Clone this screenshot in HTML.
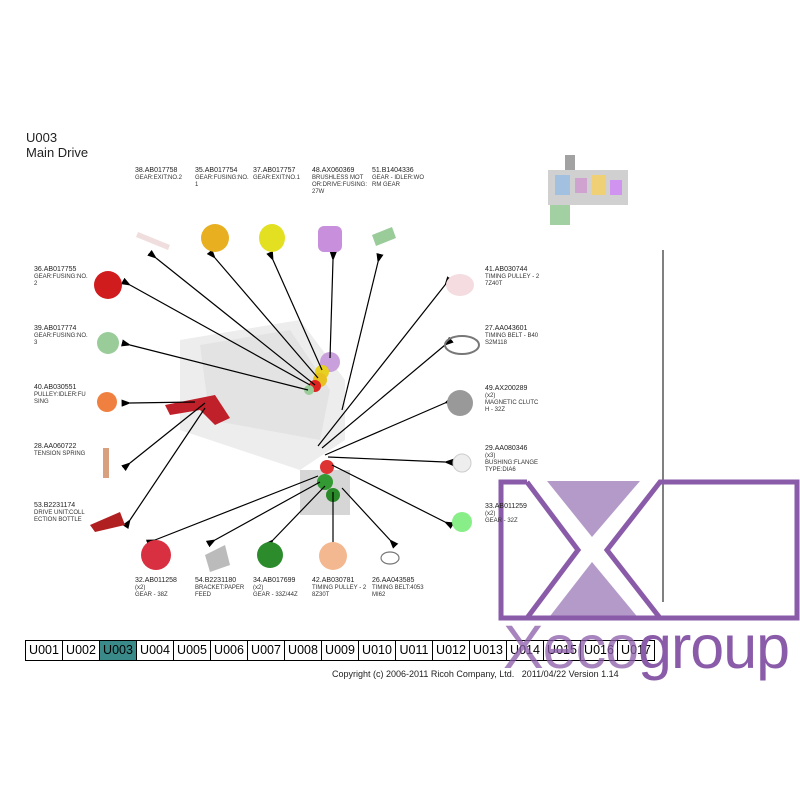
<!DOCTYPE html>
<html><head><meta charset="utf-8"><style>
body{margin:0;width:800px;height:800px;background:#fff;overflow:hidden;position:relative;font-family:"Liberation Sans",sans-serif}
.t{position:absolute;font-size:6px;line-height:7px;color:#333;width:62px}
.t b{font-weight:normal;font-size:7px;color:#222}
.tab{width:36px;height:19px;line-height:19px;text-align:center;border-right:1px solid #000}
</style></head><body>
<div style="position:absolute;left:26px;top:130px;font-size:13px;line-height:15px;color:#222">U003<br>Main Drive</div>

<svg width="800" height="800" style="position:absolute;left:0;top:0">
<defs><marker id="a" markerWidth="8" markerHeight="6" refX="1" refY="3" orient="auto-start-reverse"><path d="M8,0 L0,3 L8,6z" fill="#000"/></marker></defs>
<path d="M180,340 L300,320 L345,380 L345,440 L300,470 L180,430 Z" fill="#e8e8e8" opacity=".8"/>
<path d="M200,345 L290,330 L330,390 L320,440 L210,420 Z" fill="#dcdcdc" opacity=".6"/>
<rect x="300" y="470" width="50" height="45" fill="#bbb" opacity=".6"/>
<circle cx="330" cy="362" r="10" fill="#c9a0dc"/>
<circle cx="322" cy="372" r="7" fill="#e8d020"/><circle cx="320" cy="380" r="7" fill="#e8c020"/>
<circle cx="315" cy="386" r="6" fill="#d22"/><circle cx="309" cy="390" r="5" fill="#9c9"/>
<path d="M165,405 L215,395 L230,418 L215,425 L200,410 L170,415Z" fill="#c0202a"/>
<circle cx="327" cy="467" r="7" fill="#d33"/><circle cx="325" cy="482" r="8" fill="#393"/><circle cx="333" cy="495" r="7" fill="#2a8a2a"/>
<g opacity=".9"><rect x="548" y="170" width="80" height="35" fill="#ccc"/><rect x="555" y="175" width="15" height="20" fill="#9bd"/><rect x="575" y="178" width="12" height="15" fill="#c9c"/><rect x="592" y="175" width="14" height="20" fill="#ec6"/><rect x="610" y="180" width="12" height="15" fill="#c8e"/><rect x="550" y="205" width="20" height="20" fill="#9c9"/><rect x="565" y="155" width="10" height="15" fill="#999"/></g>
<g stroke="#000" stroke-width="1.2" marker-start="url(#a)">
<line x1="156" y1="258" x2="315" y2="385"/><line x1="215" y1="258" x2="318" y2="378"/>
<line x1="273" y1="260" x2="322" y2="370"/><line x1="333" y1="260" x2="330" y2="358"/>
<line x1="378" y1="262" x2="342" y2="410"/>
<line x1="130" y1="285" x2="310" y2="385"/><line x1="130" y1="345" x2="308" y2="390"/>
<line x1="130" y1="403" x2="195" y2="402"/><line x1="130" y1="463" x2="205" y2="403"/>
<line x1="130" y1="520" x2="205" y2="408"/>
<line x1="155" y1="540" x2="318" y2="476"/><line x1="215" y1="540" x2="320" y2="482"/>
<line x1="273" y1="540" x2="325" y2="486"/><line x1="333" y1="542" x2="333" y2="492"/>
<line x1="390" y1="540" x2="342" y2="488"/>
<line x1="445" y1="285" x2="318" y2="446"/><line x1="445" y1="345" x2="322" y2="448"/>
<line x1="445" y1="403" x2="325" y2="455"/><line x1="445" y1="462" x2="328" y2="457"/>
<line x1="445" y1="522" x2="332" y2="465"/>
</g>
<line x1="663" y1="250" x2="663" y2="602" stroke="#000" stroke-width="1"/>
<g>
<path d="M138,232 L170,245 L168,250 L136,237Z" fill="#f0dede"/>
<ellipse cx="215" cy="238" rx="14" ry="14" fill="#e8b020"/><ellipse cx="272" cy="238" rx="13" ry="14" fill="#e2e020"/>
<rect x="318" y="226" width="24" height="26" rx="6" fill="#c890dc"/>
<path d="M372,235 L392,227 L396,238 L376,246Z" fill="#9c9"/>
<circle cx="108" cy="285" r="14" fill="#d01c1c"/><circle cx="108" cy="343" r="11" fill="#9c9"/>
<circle cx="107" cy="402" r="10" fill="#f08040"/><rect x="103" y="448" width="6" height="30" fill="#d9a080"/>
<path d="M90,525 L120,512 L125,525 L95,532Z" fill="#b02020"/>
<ellipse cx="460" cy="285" rx="14" ry="11" fill="#f4dce0"/>
<ellipse cx="462" cy="345" rx="17" ry="9" fill="none" stroke="#777" stroke-width="2"/>
<circle cx="460" cy="403" r="13" fill="#999"/><circle cx="462" cy="463" r="9" fill="#eee" stroke="#ccc"/>
<circle cx="462" cy="522" r="10" fill="#8e8"/>
<circle cx="156" cy="555" r="15" fill="#d83040"/><path d="M205,555 L225,545 L230,565 L210,572Z" fill="#bbb"/>
<circle cx="270" cy="555" r="13" fill="#2c8c2c"/><circle cx="333" cy="556" r="14" fill="#f4b890"/>
<ellipse cx="390" cy="558" rx="9" ry="6" fill="none" stroke="#777" stroke-width="1.2"/>
</g>
<g fill="#b49ac8"><path d="M547,481 L640,481 L592,537Z"/><path d="M547,620 L640,620 L592,562Z"/></g>
<g fill="none" stroke="#8a5ba8" stroke-width="5" stroke-linejoin="miter">
<path d="M527,482 L501,482 L501,618 L797,618 L797,482 L660,482 L607,550 L660,618"/>
<path d="M527,482 L578,550 L527,618"/>
</g>
</svg>

<div class="t" style="left:135px;top:167px"><b>38.AB017758</b><br>GEAR:EXIT:NO.2</div>
<div class="t" style="left:195px;top:167px"><b>35.AB017754</b><br>GEAR:FUSING:NO.<br>1</div>
<div class="t" style="left:253px;top:167px"><b>37.AB017757</b><br>GEAR:EXIT:NO.1</div>
<div class="t" style="left:312px;top:167px"><b>48.AX060369</b><br>BRUSHLESS MOT<br>OR:DRIVE:FUSING:<br>27W</div>
<div class="t" style="left:372px;top:167px"><b>51.B1404336</b><br>GEAR - IDLER:WO<br>RM GEAR</div>
<div class="t" style="left:34px;top:266px"><b>36.AB017755</b><br>GEAR:FUSING:NO.<br>2</div>
<div class="t" style="left:34px;top:325px"><b>39.AB017774</b><br>GEAR:FUSING:NO.<br>3</div>
<div class="t" style="left:34px;top:384px"><b>40.AB030551</b><br>PULLEY:IDLER:FU<br>SING</div>
<div class="t" style="left:34px;top:443px"><b>28.AA060722</b><br>TENSION SPRING</div>
<div class="t" style="left:34px;top:502px"><b>53.B2231174</b><br>DRIVE UNIT:COLL<br>ECTION BOTTLE</div>
<div class="t" style="left:485px;top:266px"><b>41.AB030744</b><br>TIMING PULLEY - 2<br>7Z40T</div>
<div class="t" style="left:485px;top:325px"><b>27.AA043601</b><br>TIMING BELT - B40<br>S2M118</div>
<div class="t" style="left:485px;top:385px"><b>49.AX200289</b><br>(x2)<br>MAGNETIC CLUTC<br>H - 32Z</div>
<div class="t" style="left:485px;top:445px"><b>29.AA080346</b><br>(x3)<br>BUSHING:FLANGE<br>TYPE:DIA6</div>
<div class="t" style="left:485px;top:503px"><b>33.AB011259</b><br>(x2)<br>GEAR - 32Z</div>
<div class="t" style="left:135px;top:577px"><b>32.AB011258</b><br>(x2)<br>GEAR - 38Z</div>
<div class="t" style="left:195px;top:577px"><b>54.B2231180</b><br>BRACKET:PAPER<br>FEED</div>
<div class="t" style="left:253px;top:577px"><b>34.AB017699</b><br>(x2)<br>GEAR - 33Z/44Z</div>
<div class="t" style="left:312px;top:577px"><b>42.AB030781</b><br>TIMING PULLEY - 2<br>8Z30T</div>
<div class="t" style="left:372px;top:577px"><b>26.AA043585</b><br>TIMING BELT:4053<br>MI62</div>

<div style="position:absolute;left:25px;top:640px;display:flex;border:1px solid #000;font-size:12.5px">
<div class="tab">U001</div><div class="tab">U002</div><div class="tab" style="background:#3a8a8a">U003</div><div class="tab">U004</div><div class="tab">U005</div><div class="tab">U006</div><div class="tab">U007</div><div class="tab">U008</div><div class="tab">U009</div><div class="tab">U010</div><div class="tab">U011</div><div class="tab">U012</div><div class="tab">U013</div><div class="tab">U014</div><div class="tab">U015</div><div class="tab">U016</div><div class="tab" style="border-right:none">U017</div>
</div>
<div style="position:absolute;left:332px;top:669px;font-size:9px;color:#222">Copyright (c) 2006-2011 Ricoh Company, Ltd. &nbsp;&nbsp;2011/04/22 Version 1.14</div>
<div style="position:absolute;left:503px;top:612px;font-size:61px;line-height:70px;color:#8a5ba8;letter-spacing:-1px"><span style="opacity:.75">Xeco</span>group</div>
</body></html>
